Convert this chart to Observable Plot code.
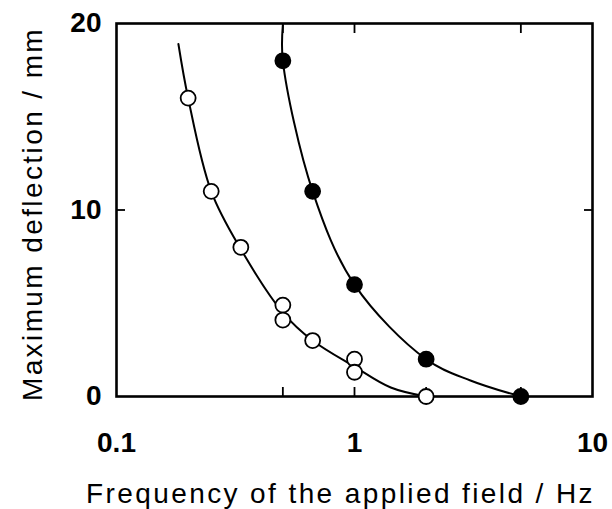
<!DOCTYPE html>
<html>
<head>
<meta charset="utf-8">
<script src="https://cdn.jsdelivr.net/npm/d3@7"></script>
<script src="https://cdn.jsdelivr.net/npm/@observablehq/plot@0.6"></script>
<style>
  html, body { margin: 0; padding: 0; background: #fff; }
  g[aria-label="text"] text { letter-spacing: 2.4px; }
</style>
</head>
<body>
<div id="chart"></div>
<script>
// Open circles (measured points)
const openFreq = [0.2, 0.25, 0.333, 0.5, 0.5, 0.667, 1, 1, 2];
const openDefl = [16, 11, 8, 4.9, 4.1, 3.0, 2.0, 1.3, 0];
// Filled circles (measured points)
const filledFreq = [0.5, 0.667, 1, 2, 5];
const filledDefl = [18, 11, 6, 2, 0];
// Hand-drawn guide curves
const openCurveFreq = [0.182, 0.2, 0.25, 0.333, 0.5, 0.667, 1, 1.42, 2];
const openCurveDefl = [18.9, 16, 11, 7.9, 4.5, 3.0, 1.6, 0.48, 0];
const filledCurveFreq = [0.5, 0.5, 0.667, 1, 2, 3.07, 5];
const filledCurveDefl = [19.9, 18, 11, 6, 2, 0.86, 0];
// Axis ticks
const xTickLabels = [0.1, 1, 10];
const xTicksBottom = [0.5, 1, 2, 5];
const xTicksTop = [0.5, 1, 5];
const yTickLabels = [0, 10, 20];
const yTicksInner = [10];
const xTitle = "Frequency of the applied field / Hz";
const yTitle = "Maximum deflection / mm";

const openPts = openFreq.map((f, i) => ({f, d: openDefl[i]}));
const filledPts = filledFreq.map((f, i) => ({f, d: filledDefl[i]}));
const openCurve = openCurveFreq.map((f, i) => ({f, d: openCurveDefl[i]}));
const filledCurve = filledCurveFreq.map((f, i) => ({f, d: filledCurveDefl[i]}));

const font = "'Liberation Sans', Arial, Helvetica, sans-serif";

const chart = Plot.plot({
  width: 612,
  height: 509,
  marginLeft: 116,
  marginRight: 20,
  marginTop: 23,
  marginBottom: 113,
  style: {fontFamily: font, background: "#fff", color: "#000"},
  x: {type: "log", domain: [0.1, 10]},
  y: {domain: [0, 20]},
  marks: [
    Plot.frame({stroke: "#000", strokeWidth: 2.6}),
    Plot.axisX(xTicksBottom, {anchor: "bottom", tickSize: -9, tickFormat: () => "", strokeWidth: 1.8, label: null}),
    Plot.axisX(xTicksTop, {anchor: "top", tickSize: -9, tickFormat: () => "", strokeWidth: 1.8, label: null}),
    Plot.axisY(yTicksInner, {anchor: "left", tickSize: -9, tickFormat: () => "", strokeWidth: 1.8, label: null}),
    Plot.axisY(yTicksInner, {anchor: "right", tickSize: -9, tickFormat: () => "", strokeWidth: 1.8, label: null}),
    Plot.line(openCurve, {x: "f", y: "d", curve: "catmull-rom", stroke: "#000", strokeWidth: 2}),
    Plot.line(filledCurve, {x: "f", y: "d", curve: "catmull-rom", stroke: "#000", strokeWidth: 2}),
    Plot.dot(openPts, {x: "f", y: "d", r: 7.5, fill: "#fff", stroke: "#000", strokeWidth: 1.8}),
    Plot.dot(filledPts, {x: "f", y: "d", r: 7.5, fill: "#000", stroke: "#000", strokeWidth: 1.8}),
    Plot.axisX(xTickLabels, {
      anchor: "bottom", tickSize: 0, tickPadding: 36, fontSize: 28, fontWeight: "bold",
      tickFormat: d => String(d), label: null
    }),
    Plot.axisY(yTickLabels, {
      anchor: "left", tickSize: 0, tickPadding: 15, fontSize: 28, fontWeight: "bold",
      tickFormat: d => String(d), label: null
    }),
    Plot.text([xTitle], {
      frameAnchor: "bottom", dy: 106, dx: -14, lineAnchor: "bottom", textAnchor: "middle",
      fontSize: 28, fill: "#000", text: d => d
    }),
    Plot.text([yTitle], {
      frameAnchor: "left", dx: -94, dy: 4, rotate: -90, lineAnchor: "top", textAnchor: "middle",
      fontSize: 28, fill: "#000", text: d => d
    })
  ]
});
document.getElementById("chart").appendChild(chart);
</script>
</body>
</html>
